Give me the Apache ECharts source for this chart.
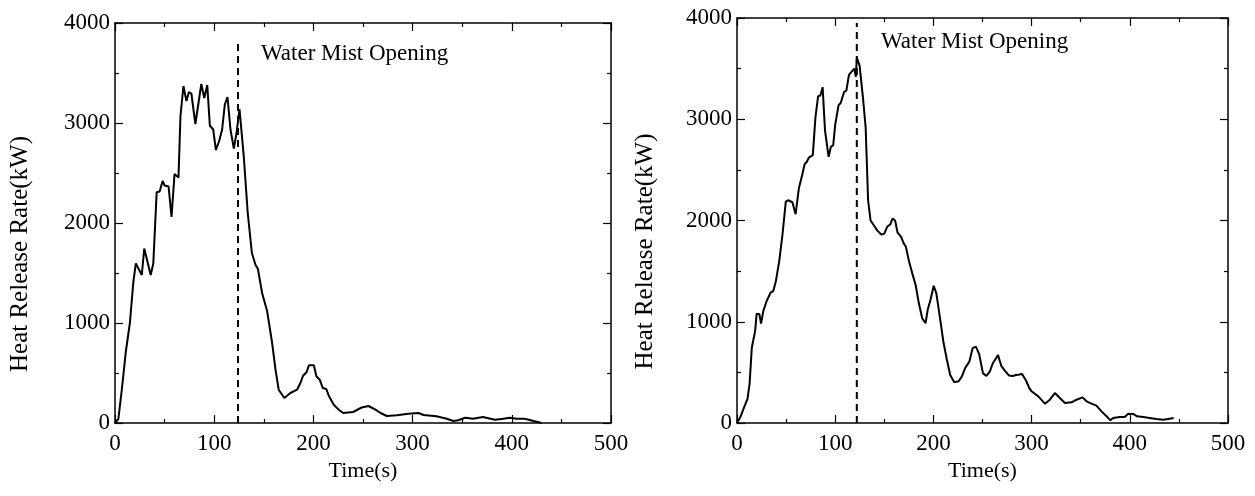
<!DOCTYPE html>
<html>
<head>
<meta charset="utf-8">
<script src="https://cdn.jsdelivr.net/npm/echarts@6/dist/echarts.min.js"></script>
<style>
html,body{margin:0;padding:0;background:#fff;}
#c{width:1255px;height:496px;}
</style>
</head>
<body>
<div id="c"></div>
<script>
// ---- Data ----
const xTicks = [0, 100, 200, 300, 400, 500];
const yTicks = [0, 1000, 2000, 3000, 4000];
const xName = 'Time(s)';
const yName = 'Heat Release Rate(kW)';
const annotation = 'Water Mist Opening';

// left panel: [time(s), HRR(kW)]
const leftCurve = [
  [0,0],[3.4,40],[6.7,320],[11,720],[15,1000],[18.5,1410],[21,1595],[27,1480],[29.5,1745],
  [36,1480],[38.6,1595],[42,2307],[45,2315],[48,2420],[50,2375],[54,2365],[57,2060],[60,2490],
  [64,2455],[66,3070],[69,3370],[72,3220],[74.5,3310],[77,3295],[81,2990],[87,3390],[90,3250],
  [93,3380],[95.6,2975],[99,2935],[101.7,2730],[105,2820],[108,2935],[110.7,3185],[113.4,3260],
  [116.4,2935],[119.8,2745],[122.5,2900],[125.5,3140],[129.8,2667],[133.8,2100],[138,1700],
  [141.6,1583],[144,1543],[148.3,1300],[153.4,1117],[158.4,800],[161.8,533],[165,333],
  [170.7,250],[176.8,300],[183.5,333],[186.9,400],[189.6,473],[193,507],[195.5,577],[200.5,577],
  [203,467],[206.4,433],[209.4,350],[213,340],[215.5,273],[220.5,183],[225.6,133],[230,100],
  [240,110],[248.7,155],[255.5,170],[262.6,133],[267.7,100],[274,70],[284,77],[295.8,93],
  [306,100],[311,80],[324,67],[334.5,43],[341,20],[346,27],[353,53],[361,43],[370.8,60],
  [383,33],[391.6,43],[398,53],[405,43],[413,43],[422,20],[430,0]
];
const leftMist = [[124,0],[124,3810]];

// right panel: [time(s), HRR(kW)]
const rightCurve = [
  [0,0],[3.4,59],[6.7,141],[10.7,239],[12.8,386],[15.1,746],[18.5,910],[20,1080],[22.8,1074],
  [24.5,982],[26.8,1107],[30.2,1205],[34.2,1287],[36.9,1303],[39.6,1401],[43,1598],[46.3,1860],
  [49.7,2187],[52,2200],[56.4,2180],[59.7,2063],[63,2318],[66.4,2449],[68.8,2554],[71.1,2580],
  [73.2,2622],[74.5,2613],[77.2,2645],[79.9,3022],[82.6,3228],[84.9,3235],[87.2,3317],
  [89.6,2891],[93.3,2629],[95.6,2727],[98,2744],[100,2947],[103.4,3137],[105.7,3163],[109,3268],
  [111.4,3284],[114,3438],[116.8,3470],[119.5,3500],[121,3420],[122,3610],[124.8,3530],
  [128.2,3220],[131,2920],[133.5,2200],[136,2000],[139.5,1950],[143,1900],[147,1860],[150,1870],
  [153,1940],[156,1960],[158.5,2020],[161,2000],[163.5,1880],[167,1840],[170,1770],[172,1740],
  [175.2,1594],[178.5,1478],[181.9,1363],[185.2,1182],[188.6,1034],[192,985],[194.3,1123],
  [197,1215],[200.3,1355],[203,1281],[207,1018],[210.4,787],[213.8,622],[217.1,474],[221.1,405],
  [225.5,410],[228.9,458],[232.2,540],[236.6,606],[240,740],[243.3,754],[246.6,680],[250.5,490],
  [254,465],[257.4,507],[260.5,590],[265.8,670],[269.1,565],[272.5,520],[276.8,470],[280.9,465],
  [284.2,474],[287.6,480],[290.3,485],[294.3,420],[297.7,345],[300,313],[306.8,263],[313.6,191],
  [318.6,230],[323.7,296],[328.8,247],[333.9,197],[340.7,204],[345.8,230],[351.9,253],[356,214],
  [361,191],[366,171],[371.2,115],[376.3,66],[380.3,26],[383,49],[389.8,59],[394.9,59],
  [398.3,92],[403.4,89],[407.5,66],[413.6,59],[420.3,49],[427,39],[433.9,33],[439,39],[444.7,49]
];
const rightMist = [[122,0],[122,3950]];

// ---- Chart ----
const FONT = 'Liberation Serif';
const chart = echarts.init(document.getElementById('c'));
const plain = v => String(v);

function xAx(grid, pos, main) {
  return {
    type: 'value', gridIndex: grid, position: pos,
    min: xTicks[0], max: xTicks[xTicks.length-1], interval: xTicks[1]-xTicks[0],
    name: main ? xName : '', nameLocation: 'middle', nameGap: 33,
    nameTextStyle: {fontFamily: FONT, fontSize: 22, color: '#000'},
    axisLine: {show: true, onZero: false, lineStyle: {color: '#000', width: 1.5}},
    axisTick: {show: true, inside: true, length: 8, lineStyle: {color: '#000', width: 1.2}},
    minorTick: {show: true, splitNumber: 2, length: 4, lineStyle: {color: '#000', width: 1.2}},
    axisLabel: {show: main, fontFamily: FONT, fontSize: 23, color: '#000', margin: 9, formatter: plain},
    splitLine: {show: false}, minorSplitLine: {show: false}
  };
}
function yAx(grid, pos, main, gap) {
  return {
    type: 'value', gridIndex: grid, position: pos,
    min: yTicks[0], max: yTicks[yTicks.length-1], interval: yTicks[1]-yTicks[0],
    name: main ? yName : '', nameLocation: 'middle', nameGap: gap,
    nameTextStyle: {fontFamily: FONT, fontSize: 25, color: '#000', padding: [0, 62, 0, 0]},
    axisLine: {show: true, onZero: false, lineStyle: {color: '#000', width: 1.5}},
    axisTick: {show: true, inside: true, length: 8, lineStyle: {color: '#000', width: 1.2}},
    minorTick: {show: true, splitNumber: 2, length: 4, lineStyle: {color: '#000', width: 1.2}},
    axisLabel: {show: main, fontFamily: FONT, fontSize: 23, color: '#000', margin: 5, formatter: plain},
    splitLine: {show: false}, minorSplitLine: {show: false}
  };
}
function curve(data, idx) {
  return {type: 'line', data: data, xAxisIndex: idx, yAxisIndex: idx,
    showSymbol: false, symbol: 'none', animation: false,
    lineStyle: {color: '#000', width: 2}};
}
function dashed(data, idx) {
  return {type: 'line', data: data, xAxisIndex: idx, yAxisIndex: idx,
    showSymbol: false, symbol: 'none', animation: false,
    lineStyle: {color: '#000', width: 2, type: [7, 5]}};
}

chart.setOption({
  animation: false,
  backgroundColor: '#fff',
  grid: [
    {left: 115, top: 23, width: 496, height: 400},
    {left: 737, top: 18, width: 491, height: 405}
  ],
  xAxis: [xAx(0,'bottom',true), xAx(0,'top',false), xAx(1,'bottom',true), xAx(1,'top',false)],
  yAxis: [yAx(0,'left',true,82), yAx(0,'right',false,0), yAx(1,'left',true,79), yAx(1,'right',false,0)],
  series: [
    curve(leftCurve, 0), dashed(leftMist, 0),
    curve(rightCurve, 2), dashed(rightMist, 2)
  ],
  graphic: [
    {type: 'text', left: 261, top: 42, style: {text: annotation, font: '23px "Liberation Serif"', fill: '#000'}},
    {type: 'text', left: 881, top: 30, style: {text: annotation, font: '23px "Liberation Serif"', fill: '#000'}}
  ]
});
</script>
</body>
</html>
